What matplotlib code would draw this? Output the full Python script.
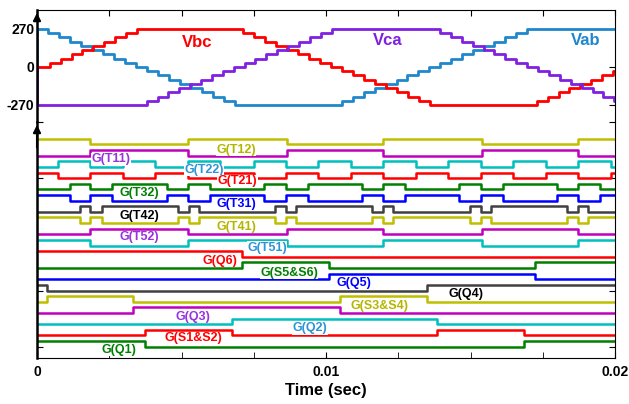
import numpy as np
import matplotlib
matplotlib.use('Agg')
import matplotlib.pyplot as plt

plt.rcParams['font.family'] = ['Liberation Sans', 'DejaVu Sans']
plt.rcParams['font.weight'] = 'bold'

# ---------------- line voltages (time in ms, value in V) ----------------
vab_t = [0, 0, 0.38, 0.76, 1.14, 1.52, 1.90, 2.28, 2.66, 3.05, 3.43, 3.81, 4.19, 4.57, 4.95,
         5.33, 5.71, 6.09, 6.47, 6.85, 10.55, 10.93, 11.31, 11.68, 12.06, 12.44, 12.81, 13.19,
         13.56, 13.94, 14.32, 14.70, 15.07, 15.45, 15.82, 16.20, 16.58, 16.96, 20.0]
vab_v = [0, 270, 240, 210, 180, 150, 120, 90, 60, 30, 0, -30, -60, -90, -120, -150, -180, -210,
         -240, -270, -240, -210, -180, -150, -120, -90, -60, -30, 0, 30, 60, 90, 120, 150, 180,
         210, 240, 270, 270]

vbc_t = [0, 0.45, 0.82, 1.20, 1.57, 1.95, 2.33, 2.70, 3.07, 3.45, 7.14, 7.52, 7.90, 8.28, 8.66,
         9.04, 9.42, 9.80, 10.18, 10.56, 10.94, 11.32, 11.70, 12.08, 12.46, 12.84, 13.22, 13.60,
         17.29, 17.67, 18.05, 18.42, 18.80, 19.18, 19.55, 19.93, 20.0]
vbc_v = [0, 30, 60, 90, 120, 150, 180, 210, 240, 270, 240, 210, 180, 150, 120, 90, 60, 30, 0,
         -30, -60, -90, -120, -150, -180, -210, -240, -270, -240, -210, -180, -150, -120, -90,
         -60, -30, -30]

vca_t = [0, 0, 3.80, 4.17, 4.55, 4.92, 5.30, 5.68, 6.06, 6.43, 6.81, 7.18, 7.56, 7.94, 8.32,
         8.69, 9.07, 9.44, 9.82, 10.20, 13.95, 14.32, 14.70, 15.08, 15.45, 15.83, 16.21, 16.59,
         16.96, 17.34, 17.72, 18.09, 18.47, 18.85, 19.23, 19.60, 19.98, 20.0]
vca_v = [0, -270, -240, -210, -180, -150, -120, -90, -60, -30, 0, 30, 60, 90, 120, 150, 180, 210,
         240, 270, 240, 210, 180, 150, 120, 90, 60, 30, 0, -30, -60, -90, -120, -150, -180, -210,
         -240, -240]

# ---------------- gate signals: switching instants (ms) and initial state ----------------
edges_t12 = [1.83, 5.24, 8.64, 11.98, 15.39, 18.73]
edges_t11 = [1.83, 5.24, 8.64, 11.98, 15.39, 18.73]
edges_t22 = [0.72, 1.83, 2.99, 4.08, 5.24, 6.33, 7.52, 8.62, 9.73, 10.87, 11.98, 13.10, 14.23,
             15.36, 16.48, 17.61, 18.73, 19.85]
edges_t21 = [0.72, 1.83, 2.99, 4.08, 5.24, 6.33, 7.52, 8.62, 9.73, 10.87, 11.98, 13.10, 14.23,
             15.36, 16.48, 17.61, 18.73, 19.85]
edges_t32 = [1.14, 1.83, 2.61, 4.49, 5.24, 5.99, 7.87, 8.62, 9.39, 11.24, 11.98, 12.73, 14.61,
             15.36, 16.11, 17.98, 18.73, 19.48]
edges_t31 = [1.14, 1.83, 2.61, 4.49, 5.24, 5.99, 7.87, 8.62, 9.39, 11.24, 11.98, 12.73, 14.61,
             15.36, 16.11, 17.98, 18.73, 19.48]
edges_t42 = [1.49, 1.83, 2.24, 4.89, 5.26, 5.61, 8.24, 8.62, 8.96, 11.58, 11.98, 12.33, 14.98,
             15.35, 15.71, 18.35, 18.73, 19.08]
edges_t41 = [1.49, 1.83, 2.24, 4.89, 5.26, 5.61, 8.24, 8.62, 8.96, 11.58, 11.98, 12.33, 14.98,
             15.35, 15.71, 18.35, 18.73, 19.08]
edges_t52 = [1.83, 5.24, 8.64, 11.98, 15.39, 18.73]
edges_t51 = [1.83, 5.24, 8.64, 11.98, 15.39, 18.73]
edges_q6 = [7.08]
edges_s56 = [7.08, 10.11, 17.23]
edges_q5 = [10.11, 17.23]
edges_q4 = [0.34, 13.48]
edges_s34 = [0.34, 3.33, 10.48, 13.48]
edges_q3 = [3.33, 10.48]
edges_q2 = [6.74, 13.83]
edges_s12 = [3.74, 6.74, 13.83, 16.85]
edges_q1 = [3.74, 16.85]

# top row first
gate_names = ['G(T12)', 'G(T11)', 'G(T22)', 'G(T21)', 'G(T32)', 'G(T31)', 'G(T42)', 'G(T41)',
              'G(T52)', 'G(T51)', 'G(Q6)', 'G(S5&S6)', 'G(Q5)', 'G(Q4)', 'G(S3&S4)', 'G(Q3)',
              'G(Q2)', 'G(S1&S2)', 'G(Q1)']
gate_edges = [edges_t12, edges_t11, edges_t22, edges_t21, edges_t32, edges_t31, edges_t42,
              edges_t41, edges_t52, edges_t51, edges_q6, edges_s56, edges_q5, edges_q4,
              edges_s34, edges_q3, edges_q2, edges_s12, edges_q1]
gate_start = [1, 0, 0, 1, 0, 1, 0, 1, 0, 1, 1, 0, 0, 1, 0, 0, 0, 0, 1]

# label anchor (ms, row-axis units)
label_x = [6.89, 2.56, 5.78, 6.94, 3.53, 6.89, 3.53, 6.89, 3.53, 7.96, 6.33, 8.72, 10.97,
           14.84, 11.85, 5.40, 9.45, 5.42, 2.84]
label_y = [3.51, 3.335, 3.144, 2.948, 2.73, 2.534, 2.331, 2.135, 1.947, 1.762, 1.525, 1.317,
           1.128, 0.932, 0.724, 0.534, 0.327, 0.149, -0.059]

# ---------------- styling ----------------
line_cycle = ['#bfbf00', '#bf00bf', '#00bfbf', '#ff0000', '#008000', '#0000ff', '#404040']
label_cycle = ['#b5b500', '#9933dd', '#2f93d6', '#ff0000', '#008000', '#0000ff', '#000000']

W, H = 629, 404
fig = plt.figure(figsize=(W / 100, H / 100), dpi=100)
x0, x1 = 37, 615
ax1 = fig.add_axes([x0 / W, 1 - 122 / H, (x1 - x0) / W, 112 / H])
ax2 = fig.add_axes([x0 / W, 1 - 357.9 / H, (x1 - x0) / W, 235.9 / H])

ms = lambda a: np.asarray(a, float) / 1000.0

# top panel
ax1.plot(ms(vab_t), vab_v, drawstyle='steps-post', color='#1f88cc', lw=2.0)
ax1.plot(ms(vbc_t), vbc_v, drawstyle='steps-post', color='#ff0000', lw=2.0)
ax1.plot(ms(vca_t), vca_v, drawstyle='steps-post', color='#8020e0', lw=2.0)
ax1.set_xlim(0, 0.02)
ax1.set_ylim(-391, 405)
ax1.set_yticks([-270, 0, 270])
ax1.set_yticklabels(['-270', '0', '270'], fontsize=10, fontweight='bold')
ax1.set_xticks(np.arange(0, 0.0201, 0.0025))
ax1.tick_params(axis='x', bottom=False, top=True, labelbottom=False, direction='in', length=4)
ax1.tick_params(axis='y', left=True, right=True, direction='in', length=4, pad=2)
ax1.spines['bottom'].set_visible(False)
ax1.spines['left'].set_linewidth(1.8)
ax1.text(ms(5.54), 172, 'Vbc', color='#ff0000', fontsize=12, fontweight='bold', ha='center', va='center')
ax1.text(ms(12.14), 185, 'Vca', color='#8020e0', fontsize=12, fontweight='bold', ha='center', va='center')
ax1.text(ms(19.0), 185, 'Vab', color='#1f88cc', fontsize=12, fontweight='bold', ha='center', va='center')

# bottom panel
n = len(gate_names)
for i, (name, edges, s0) in enumerate(zip(gate_names, gate_edges, gate_start)):
    row = n - 1 - i
    base = 0.2 * row
    t = [0.0] + list(edges) + [20.0]
    states = [(s0 + k) % 2 for k in range(len(edges) + 1)]
    states.append(states[-1])
    y = [base + 0.1 * s for s in states]
    ax2.plot(ms(t), y, drawstyle='steps-post', color=line_cycle[i % 7], lw=1.8)
    ax2.text(ms(label_x[i]), label_y[i], name, color=label_cycle[i % 7], fontsize=9,
             fontweight='bold', ha='center', va='center', zorder=5,
             bbox=dict(facecolor='white', edgecolor='none', pad=0.3))

ax2.set_xlim(0, 0.02)
ax2.set_ylim(-0.2, 4.0)
ax2.set_yticks([0, 1, 2, 3, 4])
ax2.set_yticklabels([])
ax2.set_xticks([0, 0.01, 0.02])
ax2.set_xticklabels(['0', '0.01', '0.02'], fontsize=10, fontweight='bold')
ax2.set_xticks(np.arange(0, 0.0201, 0.0025), minor=True)
ax2.tick_params(axis='both', which='both', direction='in', length=4, left=True, right=True)
ax2.tick_params(axis='x', pad=5)
ax2.spines['top'].set_visible(False)
ax2.spines['left'].set_linewidth(1.8)
ax2.set_xlabel('Time (sec)', fontsize=12, fontweight='bold', labelpad=3)

for ax in (ax1, ax2):
    ax.annotate('', xy=(0, 1.0), xycoords='axes fraction', xytext=(0, 0.88),
                arrowprops=dict(arrowstyle='-|>', color='k', lw=1.5, mutation_scale=11),
                annotation_clip=False, zorder=10)

fig.savefig('out.png', dpi=100)
